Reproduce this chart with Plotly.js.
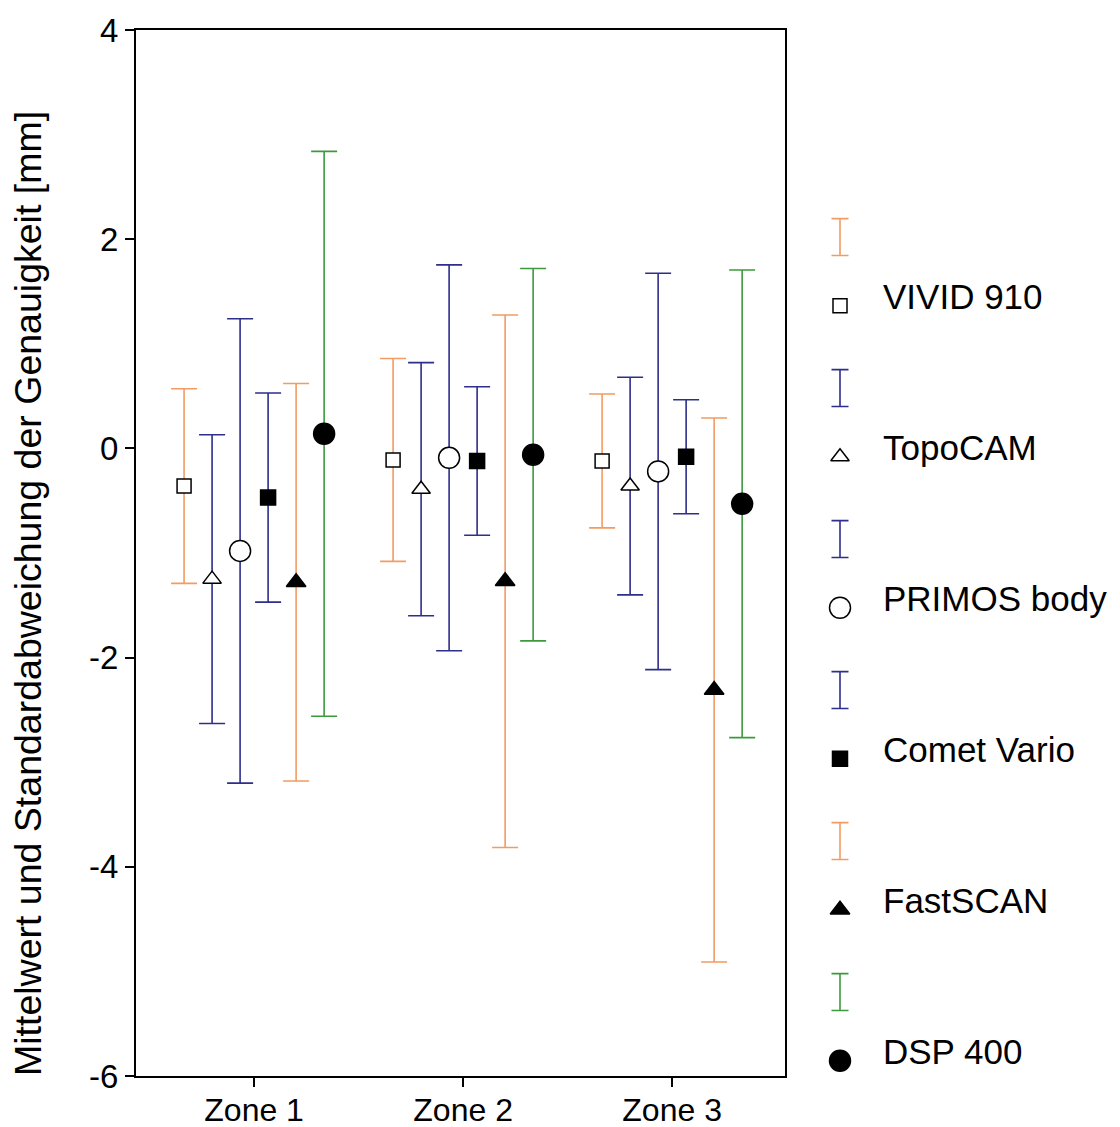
<!DOCTYPE html>
<html>
<head>
<meta charset="utf-8">
<script src="https://cdn.plot.ly/plotly-3.0.1.min.js"></script>
<style>html,body{margin:0;padding:0;background:#fff;}#chart{width:1120px;height:1127px;}</style>
</head>
<body>
<div id="chart"></div>
<script>
// ---- data ----
const zones = ["Zone 1", "Zone 2", "Zone 3"];
const seriesNames = ["VIVID 910", "TopoCAM", "PRIMOS body", "Comet Vario", "FastSCAN", "DSP 400"];
const vividMean    = [-0.36, -0.11, -0.12];
const vividSD      = [0.93, 0.97, 0.64];
const topoMean     = [-1.25, -0.39, -0.36];
const topoSD       = [1.38, 1.21, 1.04];
const primosMean   = [-0.98, -0.09, -0.22];
const primosSD     = [2.22, 1.845, 1.895];
const cometMean    = [-0.47, -0.12, -0.08];
const cometSD      = [1.0, 0.71, 0.545];
const fastMean     = [-1.28, -1.27, -2.31];
const fastSD       = [1.9, 2.545, 2.6];
const dspMean      = [0.14, -0.06, -0.53];
const dspSD        = [2.7, 1.78, 2.235];
const yTickVals    = [4, 2, 0, -2, -4, -6];
const yTickText    = ["4", "2", "0", "-2", "-4", "-6"];
const yTitle       = "Mittelwert und Standardabweichung der Genauigkeit [mm]";

// ---- styles ----
const ORANGE = "#F29B62", BLUE = "#2E2E8C", GREEN = "#3C9A3C";
const means = [vividMean, topoMean, primosMean, cometMean, fastMean, dspMean];
const sds = [vividSD, topoSD, primosSD, cometSD, fastSD, dspSD];
const barColors = [ORANGE, BLUE, BLUE, BLUE, ORANGE, GREEN];
const symbols = ["square", "triangle-up", "circle", "square", "triangle-up", "circle"];
const fills = ["#ffffff", "#ffffff", "#ffffff", "#000000", "#000000", "#000000"];
const sizes = [14, 16, 21, 15, 17, 21];
const FONT = "Liberation Sans, Arial, sans-serif";

const traces = [];
const step = 0.134;
seriesNames.forEach((name, s) => {
  traces.push({
    type: "scatter", mode: "markers", name: name, showlegend: false,
    x: zones.map((z, i) => i + 1 + (s - 2.5) * step),
    y: means[s],
    error_y: { type: "data", array: sds[s], visible: true, color: barColors[s], thickness: 1.6, width: 13 },
    marker: { symbol: symbols[s], size: sizes[s], color: fills[s], opacity: 1, line: { color: "#000", width: 1.5 } },
    xaxis: "x", yaxis: "y", cliponaxis: false, hoverinfo: "skip"
  });
});

// ---- custom legend (on hidden axes) ----
seriesNames.forEach((name, s) => {
  traces.push({
    type: "scatter", mode: "markers", showlegend: false,
    x: [40], y: [s],
    marker: { size: 1, color: "rgba(0,0,0,0)" },
    error_y: { type: "data", array: [0.122], visible: true, color: barColors[s], thickness: 1.6, width: 8.5 },
    xaxis: "x2", yaxis: "y2", hoverinfo: "skip", cliponaxis: false
  });
});
traces.push({
  type: "scatter", mode: "markers", showlegend: false,
  x: seriesNames.map(() => 40), y: seriesNames.map((n, s) => s + 0.455),
  marker: { symbol: symbols, size: sizes, color: fills, opacity: 1, line: { color: "#000", width: 1.5 } },
  xaxis: "x2", yaxis: "y2", hoverinfo: "skip", cliponaxis: false
});
traces.push({
  type: "scatter", mode: "text", showlegend: false,
  x: seriesNames.map(() => 83), y: seriesNames.map((n, s) => s + 0.42),
  text: seriesNames, textposition: "middle right",
  textfont: { family: FONT, size: 35, color: "#000" },
  xaxis: "x2", yaxis: "y2", hoverinfo: "skip", cliponaxis: false
});

const axisCommon = {
  showline: true, linecolor: "#000", linewidth: 2, mirror: true,
  ticks: "outside", ticklen: 9, tickwidth: 2, tickcolor: "#000",
  showgrid: false, zeroline: false,
  tickfont: { family: FONT, size: 33, color: "#000" }
};

const layout = {
  width: 1120, height: 1127,
  margin: { l: 136, r: 0, t: 30, b: 51 },
  paper_bgcolor: "#fff", plot_bgcolor: "#fff",
  showlegend: false,
  xaxis: Object.assign({}, axisCommon, {
    domain: [0, 649 / 984], range: [0.435, 3.54],
    tickvals: [1, 2, 3], ticktext: zones,
    tickfont: { family: FONT, size: 32, color: "#000" },
    ticklabelstandoff: -4
  }),
  yaxis: Object.assign({}, axisCommon, {
    range: [-6, 4], tickvals: yTickVals, ticktext: yTickText
  }),
  xaxis2: { domain: [664 / 984, 1], range: [0, 320], visible: false, anchor: "y2", fixedrange: true },
  yaxis2: { domain: [0, 1], range: [5.556, -1.371], visible: false, anchor: "x2", fixedrange: true },
  annotations: [{
    text: yTitle, textangle: -90, showarrow: false,
    xref: "paper", yref: "paper",
    x: (28 - 136) / 984, y: (1076 - 594) / 1046,
    xanchor: "center", yanchor: "middle",
    font: { family: FONT, size: 37.5, color: "#000" }
  }]
};

Plotly.newPlot("chart", traces, layout, { staticPlot: true, displayModeBar: false });
</script>
</body>
</html>
